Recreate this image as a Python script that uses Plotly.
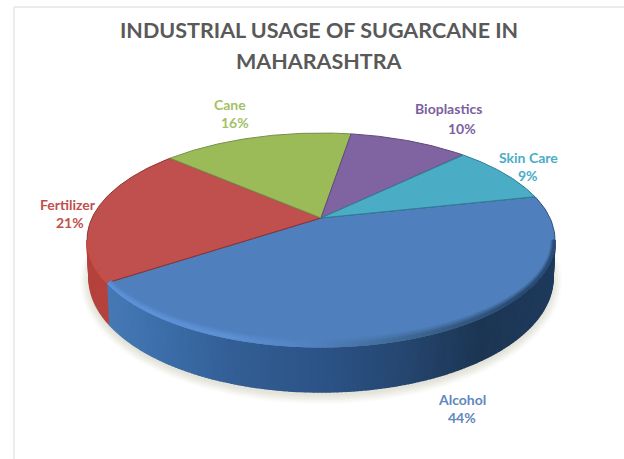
import numpy as np
import plotly.graph_objects as go

labels = ["Alcohol", "Fertilizer", "Cane", "Bioplastics", "Skin Care"]
values = [44, 21, 16, 10, 9]
top_colors = ["#4f7fbc", "#c0504d", "#9bbb59", "#8064a2", "#4bacc6"]
edge_colors = ["#2c4f7c", "#8c3330", "#76904a", "#5f4a7b", "#2f7f95"]
label_colors = ["#5f86bd", "#c0504d", "#a3bf67", "#7b5fa0", "#4bacc6"]
name_pos = [(462, 399), (68, 204), (230, 104), (448, 108), (528, 157)]
pct_pos = [(462, 417), (70, 222), (235, 122), (462, 128), (528, 175)]
title_lines = ["INDUSTRIAL USAGE OF SUGARCANE IN", "MAHARASHTRA"]

START_DEG = 12.5
CX, CY, RX, RY, K = 321, 240, 234, 107, 0.206
CX2, CY2, RX2, RY2 = 321, 278, 232, 114


def project(theta):
    u, v = np.cos(theta), np.sin(theta)
    d = 1 + K * v
    return u * np.sqrt(1 - K ** 2) / d, (v + K) / d


def to_px(X, Y):
    return CX + RX * X, CY - RY * Y


def ellipse_t(theta):
    X, Y = project(theta)
    return np.arctan2(Y, X)


def mix(stops, f):
    pos = [s[0] for s in stops]
    cols = np.array([[int(s[1][i:i + 2], 16) for i in (1, 3, 5)] for s in stops], float)
    return [float(np.interp(f, pos, cols[:, i])) for i in range(3)]


def css(rgb):
    return "rgb(%d,%d,%d)" % tuple(round(c) for c in rgb)


fig = go.Figure()


def poly(xs, ys, fill, line=None, width=0.0, opacity=1.0):
    fig.add_trace(go.Scatter(
        x=list(xs), y=list(ys), mode="lines", fill="toself", fillcolor=fill,
        line=dict(color=line or fill, width=width), opacity=opacity,
        hoverinfo="skip", showlegend=False))


# soft ground shadow
ts = np.linspace(0, 2 * np.pi, 160)
for grow, op in [(9, 0.10), (7, 0.14), (5, 0.18), (3, 0.22), (1, 0.30)]:
    poly(CX2 + (RX2 + grow) * np.cos(ts), CY2 + 3 + (RY2 + grow) * np.sin(ts),
         "#d8d6c8", opacity=op)

# slice boundaries
fracs = np.cumsum([0] + values) / sum(values)
thetas = np.radians(START_DEG) - fracs * 2 * np.pi

# side wall (front half of the pie)
blue_wall = [(0.0, "#4a7db8"), (0.12, "#3f72ae"), (0.30, "#335f96"), (0.52, "#2b5285"),
             (0.68, "#25466f"), (0.84, "#1c3553"), (1.0, "#1e3a5c")]
red_wall = [(0.0, "#b5423d"), (1.0, "#a83c38")]
t_split = ellipse_t(thetas[1]) % (2 * np.pi)
edges = np.linspace(np.pi, 2 * np.pi, 181)
for a, b in zip(edges[:-1], edges[1:]):
    m = (a + b) / 2
    stops = red_wall if m < t_split else blue_wall
    c = css(mix(stops, (np.cos(m) + 1) / 2))
    tt = np.linspace(a, b, 3)
    xs = np.r_[CX + RX * np.cos(tt), (CX2 + RX2 * np.cos(tt))[::-1]]
    ys = np.r_[CY - RY * np.sin(tt), (CY2 - RY2 * np.sin(tt))[::-1]]
    poly(xs, ys, c, width=1.5)

# top faces of the slices
apex_x, apex_y = CX, CY - RY * K
for i in range(len(values)):
    th = np.linspace(thetas[i], thetas[i + 1], 120)
    px, py = to_px(*project(th))
    poly(np.r_[apex_x, px, apex_x], np.r_[apex_y, py, apex_y], top_colors[i],
         line=edge_colors[i], width=1)

# bevel highlight along the near rim: soft crescent, tapering towards both ends
bevel_blue = [(0.0, "#4f7fbc"), (0.04, "#5d91d8"), (0.30, "#5d90d4"), (0.47, "#5283c2"),
              (0.62, "#44709f"), (0.80, "#34597f"), (0.93, "#294a70"), (1.0, "#2a4d78")]
bevel_red = [(0.0, "#c44f4a"), (1.0, "#dc4f49")]
top_blue = mix([(0, top_colors[0]), (1, top_colors[0])], 0)
top_red = mix([(0, top_colors[1]), (1, top_colors[1])], 0)
edges_b = np.linspace(np.pi, 2 * np.pi, 121)
for depth, strength in [(8, 0.25), (6, 0.55), (4, 0.85), (2.5, 1.0)]:
    for a, b in zip(edges_b[:-1], edges_b[1:]):
        m = (a + b) / 2
        is_red = m < t_split
        base = top_red if is_red else top_blue
        rim = mix(bevel_red if is_red else bevel_blue, (np.cos(m) + 1) / 2)
        c = css([bb + (rr - bb) * strength for bb, rr in zip(base, rim)])
        tt = np.linspace(a, b, 3)
        xs = np.r_[CX + RX * np.cos(tt), (CX + (RX - depth * 0.5) * np.cos(tt))[::-1]]
        ys = np.r_[CY - RY * np.sin(tt), (CY - (RY - depth) * np.sin(tt))[::-1]]
        poly(xs, ys, c, width=0.8)

annotations = []
label_font = dict(family="Lato, Carlito, sans-serif", size=14)
for name, val, col, (nx, ny), (vx, vy) in zip(labels, values, label_colors, name_pos, pct_pos):
    annotations.append(dict(x=nx, y=ny, xref="x", yref="y", showarrow=False,
                            text=f"<b>{name}</b>", font=dict(color=col, **label_font)))
    annotations.append(dict(x=vx, y=vy, xref="x", yref="y", showarrow=False,
                            text=f"<b>{val}%</b>", font=dict(color=col, **label_font)))
for line, yy in zip(title_lines, (30, 61)):
    annotations.append(dict(
        x=319, y=yy, xref="x", yref="y", showarrow=False, align="center",
        text=f"<b>{line}</b>",
        font=dict(family="Lato, Carlito, sans-serif", size=21.5, color="#595959")))

frame = "#d9d9d9"
fig.update_layout(
    width=624, height=459, autosize=False,
    margin=dict(l=0, r=0, t=0, b=0), showlegend=False,
    paper_bgcolor="white", plot_bgcolor="white",
    xaxis=dict(range=[0, 624], visible=False, fixedrange=True),
    yaxis=dict(range=[459, 0], visible=False, fixedrange=True),
    annotations=annotations,
    shapes=[
        dict(type="line", x0=14, x1=14, y0=7, y1=459, xref="x", yref="y", line=dict(color=frame, width=1)),
        dict(type="line", x0=14, x1=624, y0=7, y1=7, xref="x", yref="y", line=dict(color=frame, width=1)),
    ],
)
fig.write_html("out.html", config=dict(displayModeBar=False),
               post_script="document.body.style.margin='0';document.body.style.overflow='hidden';")
